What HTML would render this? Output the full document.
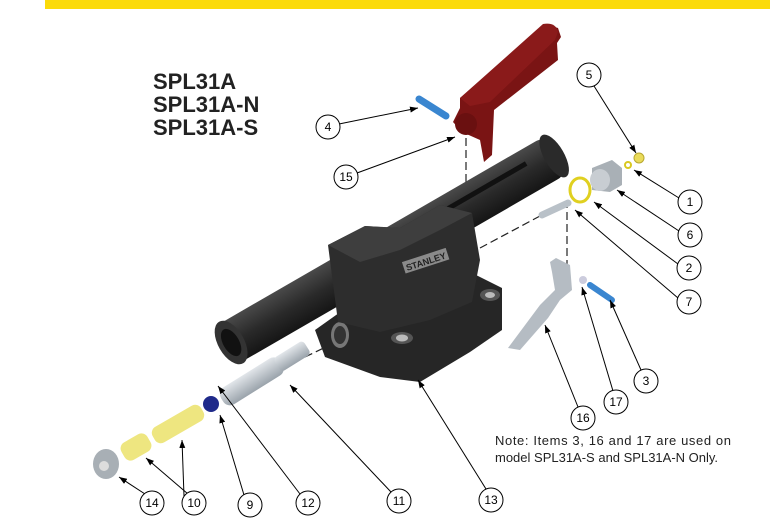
<!DOCTYPE html>
<html><head><meta charset="utf-8"><style>
html,body{margin:0;padding:0;background:#fff;}
svg{display:block;}
text{font-family:"Liberation Sans",Arial,sans-serif;}
</style></head><body>
<svg width="770" height="519" viewBox="0 0 770 519" xmlns="http://www.w3.org/2000/svg">
<defs>
<marker id="ah" markerWidth="8" markerHeight="6" refX="8" refY="3" orient="auto" markerUnits="userSpaceOnUse"><path d="M0,0 L8,3 L0,6 Z" fill="#000"/></marker>
<linearGradient id="tube" x1="0" y1="0" x2="0" y2="1"><stop offset="0" stop-color="#4a4a4a"/><stop offset="0.5" stop-color="#2a2a2a"/><stop offset="1" stop-color="#151515"/></linearGradient>
<linearGradient id="grey" x1="0" y1="0" x2="0" y2="1"><stop offset="0" stop-color="#e2e6ea"/><stop offset="1" stop-color="#9aa3ab"/></linearGradient>
</defs>
<rect x="45" y="0" width="725" height="9" fill="#FBDB0A"/>

<text x="153" y="89" font-size="22" font-weight="bold" fill="#222">SPL31A</text>
<text x="153" y="112" font-size="22" font-weight="bold" fill="#222">SPL31A-N</text>
<text x="153" y="135" font-size="22" font-weight="bold" fill="#222">SPL31A-S</text>

<g stroke="#222" stroke-width="1.2" stroke-dasharray="8,4" fill="none">
<line x1="466" y1="138" x2="466" y2="195"/>
<line x1="567" y1="200" x2="567" y2="265"/>
<line x1="540" y1="216" x2="480" y2="248"/>
<line x1="305" y1="357" x2="330" y2="345"/>
</g>

<!-- handle tube -->
<g transform="rotate(-30 400 245)">
<rect x="200" y="223" width="380" height="44" rx="10" fill="url(#tube)"/>
<ellipse cx="205" cy="245" rx="13" ry="24" fill="#333"/>
<ellipse cx="205" cy="245" rx="8" ry="15" fill="#111"/>
<ellipse cx="578" cy="245" rx="10" ry="24" fill="#2a2a2a"/>
<rect x="420" y="235" width="130" height="5" fill="#111"/>
</g>
<!-- base flange -->
<path d="M315,330 L360,298 L470,272 L502,288 L502,330 L470,352 L420,382 L380,377 L325,357 Z" fill="#262626"/>
<ellipse cx="490" cy="295" rx="10" ry="6" fill="#555"/>
<ellipse cx="490" cy="295" rx="5" ry="3" fill="#bbb"/>
<ellipse cx="402" cy="338" rx="11" ry="6" fill="#555"/>
<ellipse cx="402" cy="338" rx="6" ry="3.5" fill="#bbb"/>
<ellipse cx="340" cy="335" rx="9" ry="13" fill="#777"/>
<ellipse cx="340" cy="335" rx="6" ry="9" fill="#333"/>
<!-- body block -->
<path d="M328,245 L365,226 L400,228 L440,205 L472,213 L480,260 L472,302 L430,320 L380,332 L338,322 Z" fill="#2d2d2d"/>
<path d="M328,245 L365,226 L400,228 L440,205 L472,213 L440,230 L400,250 L360,262 Z" fill="#3e3e3e"/>
<g transform="rotate(-18 425 262)">
<rect x="403" y="255" width="46" height="12" fill="#8a8a8a"/>
<text x="426" y="265" font-size="9" font-weight="bold" fill="#222" text-anchor="middle">STANLEY</text>
</g>

<!-- red lever -->
<path d="M460,98 L545,24 L558,28 L561,37 L557,43 L558,60 L494,110 L492,155 L484,162 L480,140 L462,132 L453,122 L460,108 Z" fill="#7a1414"/>
<path d="M460,98 L543,24 Q556,22 558,32 L555,40 L490,102 L470,106 Z" fill="#8a1a1a"/>
<circle cx="466" cy="124" r="11" fill="#6a1010"/>
<line x1="419" y1="99" x2="446" y2="116" stroke="#3a86d0" stroke-width="7" stroke-linecap="round"/>

<!-- right side parts -->
<ellipse cx="639" cy="158" rx="5" ry="5" fill="#eadb5a" stroke="#b8a830"/>
<ellipse cx="628" cy="165" rx="3" ry="3" fill="none" stroke="#d9c820" stroke-width="2"/>
<path d="M592,168 L612,160 L622,168 L622,185 L610,192 L592,190 Z" fill="#a9b0b6"/>
<ellipse cx="600" cy="180" rx="10" ry="11" fill="#c8cdd2"/>
<ellipse cx="580" cy="190" rx="10" ry="12" fill="none" stroke="#e0d020" stroke-width="3"/>
<line x1="542" y1="215" x2="568" y2="203" stroke="#b9c1c8" stroke-width="7" stroke-linecap="round"/>
<path d="M550,262 L556,258 L570,265 L572,290 L560,300 L548,318 L520,350 L508,348 L540,305 L555,290 L552,272 Z" fill="#b5bcc3"/>
<circle cx="583" cy="280" r="4" fill="#ccd"/>
<line x1="590" y1="285" x2="612" y2="300" stroke="#3a86d0" stroke-width="6" stroke-linecap="round"/>

<!-- bottom left parts -->
<g transform="rotate(-32 262 375)">
<rect x="215" y="365" width="70" height="20" rx="8" fill="url(#grey)"/>
<rect x="280" y="367" width="35" height="16" rx="4" fill="url(#grey)"/>
</g>
<ellipse cx="211" cy="404" rx="8" ry="8" fill="#1f2a8a"/>
<g transform="rotate(-30 178 424)">
<rect x="150" y="415" width="56" height="18" rx="7" fill="#eee680"/>
</g>
<g transform="rotate(-30 136 447)">
<rect x="121" y="437" width="30" height="20" rx="7" fill="#eee680"/>
</g>
<ellipse cx="106" cy="464" rx="13" ry="15" fill="#a8afb5"/>
<ellipse cx="104" cy="466" rx="5" ry="5" fill="#ddd"/>

<g stroke="#000" stroke-width="1" fill="none" marker-end="url(#ah)">
<line x1="339" y1="124" x2="418" y2="108"/>
<line x1="357" y1="173" x2="455" y2="137"/>
<line x1="594" y1="86" x2="636" y2="153"/>
<line x1="679" y1="198" x2="634" y2="170"/>
<line x1="679" y1="231" x2="617" y2="190"/>
<line x1="678" y1="264" x2="594" y2="202"/>
<line x1="678" y1="298" x2="575" y2="210"/>
<line x1="641" y1="370" x2="610" y2="300"/>
<line x1="613" y1="391" x2="582" y2="287"/>
<line x1="578" y1="407" x2="545" y2="325"/>
<line x1="486" y1="489" x2="418" y2="380"/>
<line x1="391" y1="492" x2="290" y2="385"/>
<line x1="300" y1="494" x2="218" y2="386"/>
<line x1="244" y1="495" x2="220" y2="415"/>
<line x1="188" y1="494" x2="146" y2="458"/>
<line x1="145" y1="494" x2="119" y2="477"/>
<line x1="184" y1="496" x2="182" y2="440"/>
</g>

<g fill="#fff" stroke="#000" stroke-width="1">
<circle cx="328" cy="127" r="12"/><circle cx="346" cy="177" r="12"/>
<circle cx="589" cy="75" r="12"/><circle cx="690" cy="202" r="12"/>
<circle cx="690" cy="235" r="12"/><circle cx="689" cy="268" r="12"/>
<circle cx="689" cy="302" r="12"/><circle cx="646" cy="381" r="12"/>
<circle cx="616" cy="402" r="12"/><circle cx="583" cy="418" r="12"/>
<circle cx="152" cy="503" r="12"/><circle cx="194" cy="503" r="12"/>
<circle cx="250" cy="505" r="12"/><circle cx="308" cy="503" r="12"/>
<circle cx="399" cy="501" r="12"/><circle cx="491" cy="500" r="12"/>
</g>
<g font-size="12" text-anchor="middle" fill="#000">
<text x="328" y="131">4</text><text x="346" y="181">15</text>
<text x="589" y="79">5</text><text x="690" y="206">1</text>
<text x="690" y="239">6</text><text x="689" y="272">2</text>
<text x="689" y="306">7</text><text x="646" y="385">3</text>
<text x="616" y="406">17</text><text x="583" y="422">16</text>
<text x="152" y="507">14</text><text x="194" y="507">10</text>
<text x="250" y="509">9</text><text x="308" y="507">12</text>
<text x="399" y="505">11</text><text x="491" y="504">13</text>
</g>

<text x="495" y="445" font-size="13" fill="#222" textLength="236" lengthAdjust="spacing">Note: Items 3, 16 and 17 are used on</text>
<text x="495" y="462" font-size="13" fill="#222">model SPL31A-S and SPL31A-N Only.</text>
</svg>
</body></html>
